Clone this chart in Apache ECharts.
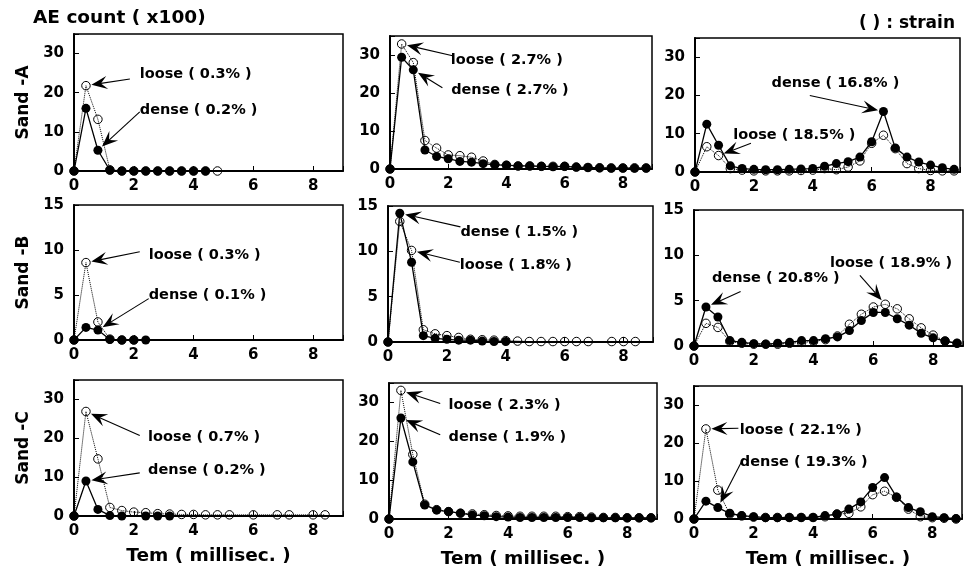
<!DOCTYPE html>
<html><head><meta charset="utf-8">
<script src="https://cdn.jsdelivr.net/npm/echarts@6/dist/echarts.min.js"></script>
<style>html,body{margin:0;padding:0;background:#fff}#c{width:966px;height:574px}</style>
</head><body><div id="c"></div>
<script>
// ---- time axis (millisec.) ----
const X = [0,0.4,0.8,1.2,1.6,2.0,2.4,2.8,3.2,3.6,4.0,4.4,4.8,5.2,5.6,6.0,6.4,6.8,7.2,7.6,8.0,8.4,8.8];

// ---- Sand-A ----
const aLoose1 = [0,21.8,13.2,0.3,0,0,0,0,0,0,0,0,0];
const aDense1 = [0,16.0,5.3,0.2,0,0,0,0,0,0,0,0];
const aLoose2 = [0,32.9,28.0,7.5,5.5,3.7,3.5,3.1,2.1,1.2,1.0,0.8,0.8,0.7,0.7,0.7,0.5,0.4,0.3,0.3,0.3,0.3,0.3];
const aDense2 = [0,29.4,26.1,5.0,3.3,2.7,2.0,1.8,1.4,1.1,1.0,0.8,0.8,0.7,0.6,0.7,0.5,0.4,0.3,0.2,0.2,0.2,0.2];
const aLoose3 = [0,6.6,4.3,0.9,0.5,0.3,0.3,0.3,0.3,0.4,0.5,0.9,0.6,1.3,2.9,7.5,9.6,6.1,2.2,0.9,0.4,0.3,0.3];
const aDense3 = [0,12.5,7.0,1.6,0.9,0.7,0.6,0.6,0.7,0.8,0.9,1.5,2.2,2.7,3.9,7.9,15.8,6.3,3.9,2.6,1.8,1.1,0.7];
// ---- Sand-B ----
const bLoose1 = [0,8.6,2.0,0.1,0,0];
const bDense1 = [0,1.4,1.1,0.05,0,0,0];
const bLoose2 = [0,13.3,10.1,1.35,0.9,0.7,0.5,0.3,0.25,0.2,0.15,0.1,0.05,0.05,0.05,0.05,0.05,0.05,null,0.05,0.05,0.05];
const bDense2 = [0,14.2,8.8,0.7,0.4,0.3,0.2,0.2,0.1,0.05,0.05];
const bLoose3 = [0,2.5,2.05,0.5,0.3,0.2,0.2,0.2,0.3,0.4,0.5,0.7,1.1,2.4,3.5,4.3,4.6,4.1,3.0,2.0,1.2,0.55,0.3];
const bDense3 = [0,4.3,3.2,0.6,0.4,0.26,0.2,0.3,0.4,0.6,0.6,0.8,1.0,1.7,2.8,3.7,3.7,3.0,2.3,1.4,0.9,0.55,0.3];
// ---- Sand-C ----
const cLoose1 = [0,26.9,14.7,2.2,1.4,1.0,0.85,0.6,0.5,0.4,0.4,0.3,0.3,0.3,null,0.3,null,0.3,0.3,null,0.3,0.3];
const cDense1 = [0,9.0,1.7,0.1,0,null,0,0,0];
const cLoose2 = [0,33.1,16.6,3.8,2.4,1.9,1.5,1.3,1.1,0.9,0.8,0.7,0.7,0.7,0.7,0.6,0.6,0.5,0.4,0.4,0.3,0.3,0.3];
const cDense2 = [0,26.0,14.7,3.6,2.3,1.9,1.5,1.0,0.85,0.6,0.5,0.4,0.4,0.4,0.4,0.4,0.4,0.3,0.3,0.3,0.3,0.3,0.3];
const cLoose3 = [0,23.7,7.6,1.3,0.8,0.5,0.4,0.4,0.4,0.4,0.4,0.6,1.3,1.5,3.2,6.4,7.3,5.7,2.6,0.6,0.35,0.2,0];
const cDense3 = [0,4.7,3.0,1.5,0.9,0.6,0.35,0.35,0.4,0.4,0.4,0.9,1.3,2.6,4.5,8.3,10.9,5.8,3.0,1.9,0.6,0.35,0.1];

// ---- axis ticks ----
const xTicks = [0,2,4,6,8];
const yTicksAC = [0,10,20,30];
const yTicksB = [0,5,10,15];
const rowLabels = ['Sand -A','Sand -B','Sand -C'];
const xName = 'Tem ( millisec. )';
const yTitle = 'AE count ( x100)';
const noteText = '( ) : strain';

const panels = [
  {loose:aLoose1, dense:aDense1, yTicks:yTicksAC, ymax:35},
  {loose:aLoose2, dense:aDense2, yTicks:yTicksAC, ymax:35},
  {loose:aLoose3, dense:aDense3, yTicks:yTicksAC, ymax:35},
  {loose:bLoose1, dense:bDense1, yTicks:yTicksB, ymax:15},
  {loose:bLoose2, dense:bDense2, yTicks:yTicksB, ymax:15},
  {loose:bLoose3, dense:bDense3, yTicks:yTicksB, ymax:15},
  {loose:cLoose1, dense:cDense1, yTicks:yTicksAC, ymax:35},
  {loose:cLoose2, dense:cDense2, yTicks:yTicksAC, ymax:35},
  {loose:cLoose3, dense:cDense3, yTicks:yTicksAC, ymax:35}
];

// annotations: panel, series, point index, text, text anchor (data), arrow start (data)
const notes = [
  {p:0, s:'loose', i:1, t:'loose ( 0.3% )', at:[2.2,24.8], from:[1.87,23.5]},
  {p:0, s:'dense', i:2, t:'dense ( 0.2% )', at:[2.2,15.6], from:[2.2,15.1]},
  {p:1, s:'loose', i:1, t:'loose ( 2.7% )', at:[2.09,28.5], from:[2.15,29.8]},
  {p:1, s:'dense', i:2, t:'dense ( 2.7% )', at:[2.1,20.7], from:[1.8,21.4]},
  {p:2, s:'dense', i:16, t:'dense ( 16.8% )', at:[2.6,23.3], from:[3.9,20.0]},
  {p:2, s:'loose', i:2, t:'loose ( 18.5% )', at:[1.3,9.5], from:[1.9,7.5]},
  {p:3, s:'loose', i:1, t:'loose ( 0.3% )', at:[2.5,9.4], from:[2.2,9.8]},
  {p:3, s:'dense', i:2, t:'dense ( 0.1% )', at:[2.5,5.0], from:[2.5,4.6]},
  {p:4, s:'dense', i:1, t:'dense ( 1.5% )', at:[2.46,12.1], from:[2.46,12.7]},
  {p:4, s:'loose', i:2, t:'loose ( 1.8% )', at:[2.44,8.5], from:[2.44,8.8]},
  {p:5, s:'loose', i:16, t:'loose ( 18.9% )', at:[4.55,9.1], from:[5.55,7.8]},
  {p:5, s:'dense', i:1, t:'dense ( 20.8% )', at:[0.6,7.5], from:[1.56,6.0]},
  {p:6, s:'loose', i:1, t:'loose ( 0.7% )', at:[2.48,20.3], from:[2.2,20.7]},
  {p:6, s:'dense', i:1, t:'dense ( 0.2% )', at:[2.48,11.7], from:[2.2,11.1]},
  {p:7, s:'loose', i:1, t:'loose ( 2.3% )', at:[2.0,29.2], from:[1.72,29.7]},
  {p:7, s:'dense', i:1, t:'dense ( 1.9% )', at:[2.0,21.1], from:[1.72,21.7]},
  {p:8, s:'loose', i:1, t:'loose ( 22.1% )', at:[1.54,23.4], from:[1.49,23.9]},
  {p:8, s:'dense', i:2, t:'dense ( 19.3% )', at:[1.54,14.9], from:[1.6,15.1]}
];

// ---- layout (pixels) ----
const boxes = [
  [74,34,269,137],[390,36,262,133],[695,38,265,134],
  [74,205,269,135],[388,206,265,136],[694,210,269,136],
  [74,380,269,136],[389,383,268,136],[694,386,268,133]
];
const FONT = '"DejaVu Sans", "Liberation Sans", sans-serif';

const chart = echarts.init(document.getElementById('c'));
const grid=[], xAxis=[], yAxis=[], series=[];
function pts(arr){
  const out=[];
  arr.forEach((v,k)=>{ if(v!==null && v!==undefined) out.push([X[k], v]); });
  return out;
}
panels.forEach((p,k)=>{
  const b = boxes[k];
  grid.push({left:b[0], top:b[1], width:b[2], height:b[3], show:true, borderColor:'#000', borderWidth:1.5, backgroundColor:'transparent'});
  const row = Math.floor(k/3);
  xAxis.push({
    gridIndex:k, type:'value', min:0, max:9, interval:2,
    name: row===2 ? xName : '', nameLocation:'middle', nameGap:31,
    nameTextStyle:{fontFamily:FONT, fontWeight:'bold', fontSize:18.5, color:'#000'},
    axisLine:{show:true, onZero:false, lineStyle:{color:'#000', width:2}},
    axisTick:{show:true, inside:true, length:5, lineStyle:{color:'#000', width:1}},
    axisLabel:{margin:8, fontFamily:FONT, fontWeight:'bold', fontSize:15, color:'#000',
      formatter:v=> xTicks.indexOf(v)>=0 ? String(v) : ''},
    splitLine:{show:false}
  });
  const yint = p.yTicks[1]-p.yTicks[0];
  yAxis.push({
    gridIndex:k, type:'value', min:0, max:p.ymax, interval:yint,
    axisLine:{show:true, onZero:false, lineStyle:{color:'#000', width:2}},
    axisTick:{show:true, inside:true, length:5, lineStyle:{color:'#000', width:1}},
    axisLabel:{margin:10, fontFamily:FONT, fontWeight:'bold', fontSize:15, color:'#000',
      formatter:v=> p.yTicks.indexOf(v)>=0 ? String(v) : ''},
    splitLine:{show:false}
  });
  series.push({
    type:'line', xAxisIndex:k, yAxisIndex:k, data:pts(p.loose), symbol:'circle', symbolSize:8.5,
    lineStyle:{color:'#000', width:1, type:'dotted'},
    itemStyle:{color:'rgba(255,255,255,0)', borderColor:'#000', borderWidth:1},
    z:2, silent:true
  });
  series.push({
    type:'line', xAxisIndex:k, yAxisIndex:k, data:pts(p.dense), symbol:'circle', symbolSize:9,
    lineStyle:{color:'#000', width:1.3, type:'solid'},
    itemStyle:{color:'#000', borderColor:'#000', borderWidth:0},
    z:3, silent:true
  });
});

chart.setOption({animation:false, backgroundColor:'#fff', grid, xAxis, yAxis, series});

// ---- texts and arrows ----
const gfx = [];
gfx.push({type:'text', x:33, y:18, z:100, style:{text:yTitle, font:'bold 18.5px '+FONT, fill:'#000', textAlign:'left', textVerticalAlign:'middle', verticalAlign:'middle'}});
gfx.push({type:'text', x:955, y:24, z:100, style:{text:noteText, font:'bold 17px '+FONT, fill:'#000', textAlign:'right', textVerticalAlign:'middle', verticalAlign:'middle'}});
rowLabels.forEach((t,r)=>{
  const b = boxes[r*3];
  gfx.push({type:'text', x:24, y:b[1]+b[3]/2, rotation:Math.PI/2, z:100,
    style:{text:t, font:'bold 17px '+FONT, fill:'#000', textAlign:'center', textVerticalAlign:'middle', verticalAlign:'middle'}});
});
notes.forEach(n=>{
  const arr = panels[n.p][n.s];
  const tgt = chart.convertToPixel({gridIndex:n.p}, [X[n.i], arr[n.i]]);
  const st = chart.convertToPixel({gridIndex:n.p}, n.from);
  const tp = chart.convertToPixel({gridIndex:n.p}, n.at);
  let dx = tgt[0]-st[0], dy = tgt[1]-st[1];
  const len = Math.sqrt(dx*dx+dy*dy); dx/=len; dy/=len;
  const tip = [tgt[0]-dx*5.5, tgt[1]-dy*5.5];
  const L = 16, W = 13, nx = -dy, ny = dx;
  const back = [tip[0]-dx*L, tip[1]-dy*L];
  const notch = [tip[0]-dx*L*0.6, tip[1]-dy*L*0.6];
  gfx.push({type:'line', z:100, shape:{x1:st[0], y1:st[1], x2:notch[0], y2:notch[1]}, style:{stroke:'#000', lineWidth:1.1}});
  gfx.push({type:'polygon', z:100, shape:{points:[tip, [back[0]+nx*W/2, back[1]+ny*W/2], notch, [back[0]-nx*W/2, back[1]-ny*W/2]]}, style:{fill:'#000'}});
  gfx.push({type:'text', x:tp[0], y:tp[1], z:100, style:{text:n.t, font:'bold 14.5px '+FONT, fill:'#000', textAlign:'left', textVerticalAlign:'middle', verticalAlign:'middle'}});
});
chart.setOption({graphic: gfx});
</script>
</body></html>
